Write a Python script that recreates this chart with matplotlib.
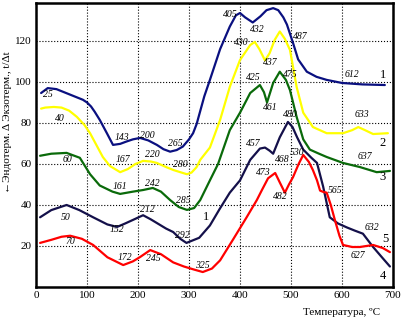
import matplotlib
matplotlib.use('Agg')
import matplotlib.pyplot as plt

# curve 1 (navy)
t1 = [10, 23, 40, 60, 80, 92, 100, 108, 115, 125, 139, 151, 165, 178, 190, 204, 220, 237, 250, 263, 276, 288,
      300, 308, 315, 330, 341, 361, 380, 392, 400, 410, 425, 440, 452, 465, 475, 485, 492, 504, 514,
      531, 550, 570, 600, 640, 684]
v1 = [94.6, 97, 96.5, 94.5, 92.5, 91.3, 90, 88, 85.5, 81.5, 75, 69.3, 69.8, 71, 72, 72.7, 71.5, 69.3, 67.2, 66, 66.8, 68.5,
      72, 75, 79.5, 93, 101, 116, 127, 132.5, 133.6, 131.5, 129, 132, 135, 136, 135, 131.5, 128, 119, 111,
      105, 102.5, 101, 99.5, 98.8, 98.5]

# curve 2 (yellow)
t2 = [10, 18, 35, 50, 65, 80, 95, 106, 120, 131, 145, 165, 180, 195, 210, 225, 237, 255, 270, 288, 296,
      305, 315, 322, 341, 361, 380, 400, 420, 429, 438, 449, 458, 468, 478, 488, 498, 511, 524, 543, 570,
      602, 620, 632, 645, 661, 690]
v2 = [87, 87.5, 87.8, 87.5, 86, 83, 79, 75, 68.5, 63.4, 59, 56, 57.5, 60, 61.5, 61.2, 60.5, 58.5, 57, 55.6, 55,
      55.8, 58.5, 62, 68, 81.5, 97.6, 110.7, 118, 119.5, 116, 110.5, 114, 120.5, 124.6, 121, 115.6, 97.6, 85, 78, 75,
      75, 76.5, 78, 76.5, 74.6, 75]

# curve 3 (green)
t3 = [8, 30, 60, 86, 106, 125, 150, 165, 190, 210, 229, 245, 263, 280, 296, 310, 322, 341, 357, 380, 400,
      420, 439, 447, 453, 465, 478, 490, 498, 511, 524, 537, 555, 570, 602, 635, 668, 694]
v3 = [64, 65, 65.4, 63, 55, 49.5, 46.5, 45.4, 46.5, 47.3, 48.3, 46.5, 42.4, 39, 37.6, 38.5, 42.4, 52, 60, 76.5, 85,
      94.6, 98.5, 95, 90, 99.5, 105, 101, 96, 83, 72, 67, 65, 63.4, 60.5, 58.5, 56, 56.6]

# curve 4 (dark)
t4 = [8, 30, 60, 85, 112, 140, 159, 175, 190, 210, 225, 237, 255, 269, 283, 295, 320, 341, 360, 380, 400,
      420, 439, 449, 458, 465, 478, 494, 503, 512, 524, 540, 551, 563, 576, 592, 610, 625, 641, 661, 680, 694]
v4 = [34, 37.5, 40, 37.5, 34, 30.5, 29.3, 31, 32.7, 35, 33, 31.2, 28.5, 26.8, 23.5, 21.5, 24, 30, 38, 46, 52,
      62, 67.5, 68, 66.5, 65, 73, 80.5, 78, 73, 67, 63, 60.5, 49, 34, 31, 29, 27.5, 26, 19.5, 14, 10]

# curve 5 (red)
t5 = [8, 30, 50, 67, 90, 112, 140, 171, 190, 204, 224, 245, 269, 290, 310, 327, 345, 361, 386, 413, 433,
      443, 455, 469, 478, 488, 496, 504, 515, 524, 535, 543, 551, 557, 564, 570, 578, 586, 595, 602, 620,
      635, 661, 680, 694]
v5 = [21.5, 23, 24.5, 25, 23.5, 20.5, 14.5, 10.7, 12.5, 14.6, 18, 16, 12, 10, 8.5, 7.3, 9, 13, 23, 34, 42.4,
      47.3, 53, 55.6, 51, 46, 50, 53.6, 60, 64.4, 61, 57, 52, 47, 46.3, 46, 40, 32.7, 25, 20.5, 19.5,
      19.5, 20.5, 19, 17]

# peak labels: text, T, value
peak_labels = [
    ('25', 23.5, 93.7), ('143', 168.6, 72.7), ('200', 217.6, 74.1), ('265', 272.5, 70.2),
    ('405', 380.4, 132.7), ('432', 433.3, 125.4), ('40', 47, 82.4), ('167', 170.6, 62.4),
    ('220', 227.5, 64.4), ('280', 282, 59.5), ('430', 402, 119), ('437', 458.8, 109.3),
    ('487', 517.6, 122), ('612', 619.6, 103.4), ('425', 425.5, 102), ('461', 458.8, 87.3),
    ('475', 498, 103.4), ('633', 639, 83.9), ('60', 60.8, 62), ('161', 164.7, 48.8),
    ('242', 227.5, 50.7), ('285', 288, 42.4), ('457', 425.5, 70.2), ('480', 498, 83.9),
    ('637', 645, 63.4), ('50', 58.8, 33.7), ('152', 158.8, 27.8), ('212', 217.6, 37.6),
    ('292', 286, 24.9), ('468', 482, 62.4), ('530', 511.8, 65.4), ('473', 445, 55.6),
    ('482', 478.4, 43.9), ('565', 586, 47.3), ('632', 658.8, 28.8), ('627', 631.4, 15.6),
    ('70', 66.7, 22), ('172', 174.5, 14.6), ('245', 229.4, 14.1), ('325', 325.5, 10.7),
]
curve_labels = [('1', 680, 103.4), ('2', 680, 70.2), ('3', 680, 53.7), ('5', 686, 23.4),
                ('4', 680, 5.4), ('1', 333, 34.1)]

plt.rcParams['font.family'] = ['Liberation Serif', 'DejaVu Serif']

fig = plt.figure(figsize=(4.10, 3.21), dpi=100)
ax = fig.add_axes([36 / 410, 34 / 321, 357 / 410, 284 / 321])

line_kw = dict(lw=1.6, solid_joinstyle='round', solid_capstyle='round')
ax.plot(t1, v1, color='#0a1080', **line_kw)
ax.plot(t2, v2, color='#ffff00', **line_kw)
ax.plot(t3, v3, color='#0a6a0a', **line_kw)
ax.plot(t4, v4, color='#14104a', **line_kw)
ax.plot(t5, v5, color='#ff0000', **line_kw)

for txt, x, y in peak_labels:
    ax.text(x, y, txt, fontsize=7, style='italic', ha='center', va='center')
for txt, x, y in curve_labels:
    ax.text(x, y, txt, fontsize=9, ha='center', va='center')

ax.set_xlim(0, 700)
ax.set_ylim(0, 138.5)
ax.set_xticks(range(0, 701, 100))
ax.set_yticks(range(20, 121, 20))
ax.tick_params(length=0, labelsize=8, pad=3)
ax.grid(True, color='black', linestyle=':', linewidth=0.8)
for s in ax.spines.values():
    s.set_linewidth(1.8)

ax.set_xlabel('Температура, ºС', fontsize=8)
ax.xaxis.set_label_coords(0.855, -0.075)
fig.text(8 / 410, 1 - 122 / 321, '←Эндотерм. Δ Экзотерм., t/Δt', rotation=90,
         fontsize=8, ha='center', va='center')

fig.savefig('out.png', dpi=100)
